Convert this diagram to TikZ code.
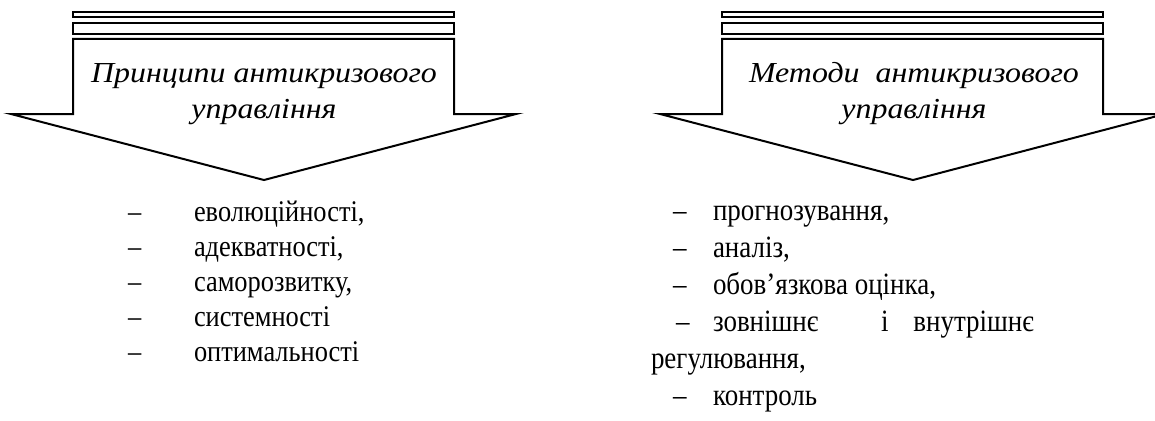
\documentclass[tikz,border=0pt]{standalone}
\usepackage{fontspec}
\setmainfont{Liberation Serif}
\newfontfamily\titlefont[FakeStretch=1.1]{Liberation Serif}
\newfontfamily\princfont[FakeStretch=0.88]{Liberation Serif}
\newfontfamily\methfont[FakeStretch=0.87]{Liberation Serif}

\begin{document}
\begin{tikzpicture}[x=1pt, y=-1pt, line width=2pt, line join=miter,
    title/.style={align=center, inner sep=0pt, anchor=base,
        font=\fontsize{29}{36}\titlefont\itshape},
    pitem/.style={anchor=base west, inner sep=0pt, font=\fontsize{30}{35}\princfont},
    mitem/.style={anchor=base west, inner sep=0pt, font=\fontsize{31}{37}\methfont}]
    \useasboundingbox (0,0) rectangle (1155,420);
    % two block arrows with double bars on top
    \foreach \dx in {0, 649} {
        \begin{scope}[xshift=\dx]
            \draw (73,12.5) rectangle (454,17.5);
            \draw (73,23) rectangle (454,34);
            \draw (73,39) -- (454,39) -- (454,114) -- (516,114) -- (264,180)
                -- (11,114) -- (73,114) -- cycle;
        \end{scope}
    }
    % base anchor sits on the second line
    \node (princ) [title] at (264,118) {Принципи антикризового\\управління};
    \node (meth)  [title] at (914,118) {Методи\ \ антикризового\\управління};
    % principles
    \foreach \txt [count=\i] in {{еволюційності,}, {адекватності,}, {саморозвитку,},
            {системності}, {оптимальності}} {
        \node (pdash\i) [pitem] at (127,186+35*\i) {–};
        \node (pitem\i) [pitem] at (193,186+35*\i) {\txt};
    }
    % methods
    \foreach \txt [count=\i] in {{прогнозування,}, {аналіз,}, {обов’язкова оцінка,}} {
        \node (mdash\i) [mitem] at (672,183+37*\i) {–};
        \node (mitem\i) [mitem] at (712,183+37*\i) {\txt};
    }
    \node (mdash4)  [mitem] at (675,331) {–};
    \node (mitem4a) [mitem] at (712,331) {зовнішнє};
    \node (mitem4b) [mitem] at (880,331) {і};
    \node (mitem4c) [mitem, anchor=base east] at (1035,331) {внутрішнє};
    \node (mitem5)  [mitem] at (650,368) {регулювання,};
    \node (mdash6)  [mitem] at (672,405) {–};
    \node (mitem6)  [mitem] at (712,405) {контроль};
\end{tikzpicture}
\end{document}
